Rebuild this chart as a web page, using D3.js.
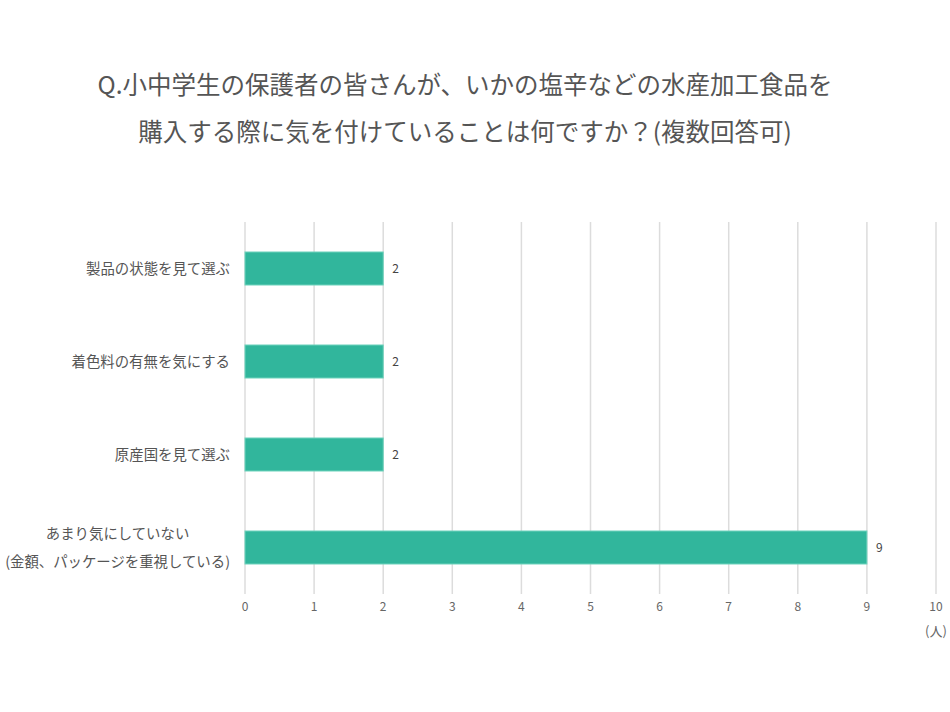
<!DOCTYPE html>
<html>
<head>
<meta charset="utf-8">
<script src="https://cdn.jsdelivr.net/npm/d3@7"></script>
<style>
  body { margin: 0; background: #fff; }
  text { font-family: "Noto Sans CJK JP", "Noto Sans", sans-serif; }
</style>
</head>
<body>
<div id="chart"></div>
<script>
const titleLines = [
  "Q.小中学生の保護者の皆さんが、いかの塩辛などの水産加工食品を",
  "購入する際に気を付けていることは何ですか？(複数回答可)"
];
const categories = [
  ["製品の状態を見て選ぶ"],
  ["着色料の有無を気にする"],
  ["原産国を見て選ぶ"],
  ["あまり気にしていない", "(金額、パッケージを重視している)"]
];
const values = [2, 2, 2, 9];
const ticks = [0, 1, 2, 3, 4, 5, 6, 7, 8, 9, 10];
const unitLabel = "(人)";

const width = 950, height = 712;
const margin = { top: 222, right: 14, bottom: 118, left: 245 };

const svg = d3.select("#chart").append("svg")
  .attr("width", width)
  .attr("height", height);

// title
svg.append("g").selectAll("text")
  .data(titleLines)
  .join("text")
  .attr("x", 465)
  .attr("y", (d, i) => 94 + i * 47)
  .attr("text-anchor", "middle")
  .style("font-size", "24.5px")
  .style("fill", "#555")
  .text(d => d);

const x = d3.scaleLinear()
  .domain([0, 10])
  .range([margin.left, width - margin.right]);

const y = d3.scaleBand()
  .domain(d3.range(categories.length))
  .range([margin.top, height - margin.bottom])
  .paddingInner(0.645)
  .paddingOuter(0.3225);

// grid lines
svg.append("g").selectAll("line")
  .data(ticks)
  .join("line")
  .attr("x1", d => x(d))
  .attr("x2", d => x(d))
  .attr("y1", margin.top)
  .attr("y2", height - margin.bottom)
  .style("stroke", "#dcdcdc")
  .style("stroke-width", 1.5);

// tick labels
svg.append("g").selectAll("text")
  .data(ticks)
  .join("text")
  .attr("x", d => x(d))
  .attr("y", 611)
  .attr("text-anchor", "middle")
  .style("font-size", "12px")
  .style("fill", "#666")
  .text(d => d);

svg.append("text")
  .attr("x", x(10))
  .attr("y", 636)
  .attr("text-anchor", "middle")
  .style("font-size", "13px")
  .style("fill", "#666")
  .text(unitLabel);

// bars
svg.append("g").selectAll("rect")
  .data(values)
  .join("rect")
  .attr("x", x(0))
  .attr("y", (d, i) => y(i))
  .attr("width", d => x(d) - x(0))
  .attr("height", y.bandwidth())
  .style("fill", "#31b69c")
  .style("stroke", "#6fd3bd")
  .style("stroke-width", 1);

// value labels
svg.append("g").selectAll("text")
  .data(values)
  .join("text")
  .attr("x", d => x(d) + 9)
  .attr("y", (d, i) => y(i) + y.bandwidth() / 2 + 4)
  .style("font-size", "12px")
  .style("fill", "#444")
  .text(d => d);

// category labels
const labelRight = 230;
categories.forEach((lines, i) => {
  const cy = y(i) + y.bandwidth() / 2;
  const g = svg.append("g");
  const texts = g.selectAll("text")
    .data(lines)
    .join("text")
    .attr("y", (d, j) => cy + 5 + (j - (lines.length - 1) / 2) * 28)
    .style("font-size", "14.4px")
    .style("fill", "#555")
    .text(d => d);
  if (lines.length === 1) {
    texts.attr("x", labelRight).attr("text-anchor", "end");
  } else {
    const maxW = d3.max(texts.nodes(), n => n.getComputedTextLength());
    texts.attr("x", labelRight - maxW / 2).attr("text-anchor", "middle");
  }
});
</script>
</body>
</html>
